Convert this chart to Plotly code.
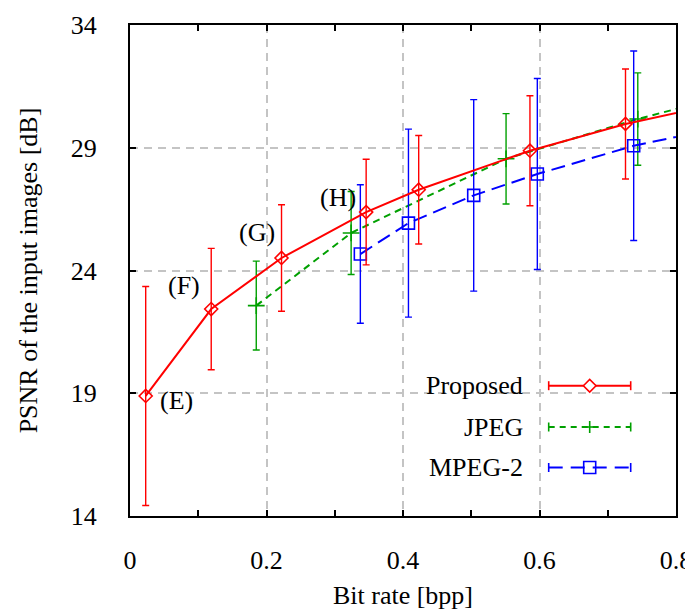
import plotly.graph_objects as go

# ---------------- data ----------------
prop_x = [0.023, 0.119, 0.222, 0.346, 0.423, 0.586, 0.726, 0.87]
prop_y = [18.89, 22.43, 24.51, 26.38, 27.29, 28.88, 29.97, 30.84]
prop_err = [4.46, 2.47, 2.17, 2.15, 2.21, 2.24, 2.24, 2.24]

jpeg_x = [0.185, 0.324, 0.551, 0.744, 0.87]
jpeg_y = [22.57, 25.53, 28.55, 30.17, 31.09]
jpeg_err = [1.81, 1.69, 1.84, 1.88, 1.88]

mpeg_x = [0.3375, 0.408, 0.5036, 0.5968, 0.738, 0.87]
mpeg_y = [24.67, 25.93, 27.06, 27.93, 29.08, 29.85]
mpeg_err = [2.82, 3.83, 3.90, 3.89, 3.86, 3.86]

point_labels = ["(E)", "(F)", "(G)", "(H)"]
label_shift = [(31, -5), (-27, 24), (-25, 25), (-28, 15)]

x_ticks = [0, 0.2, 0.4, 0.6, 0.8]
x_ticktext = ["0", "0.2", "0.4", "0.6", "0.8"]
y_ticks = [14, 19, 24, 29, 34]

series_names = ["Proposed", "JPEG", "MPEG-2"]
RED, GREEN, BLUE = "#ff0000", "#00a000", "#0000ff"

FONT = "Liberation Serif, Times New Roman, serif"
FS = 26

fig = go.Figure()

def add_series(x, y, err, color, dash, symbol, size, name):
    fig.add_trace(go.Scatter(
        x=x, y=y, mode="lines+markers", name=name, showlegend=False,
        line=dict(color=color, width=2, dash=dash),
        marker=dict(symbol=symbol, size=size, color=color,
                    line=dict(color=color, width=1.6)),
        error_y=dict(type="data", array=err, visible=True, color=color,
                     thickness=1.4, width=3.5),
    ))

add_series(jpeg_x, jpeg_y, jpeg_err, GREEN, "7px,5px", "cross-thin", 12, series_names[1])
add_series(mpeg_x, mpeg_y, mpeg_err, BLUE, "14px,7px", "square-open", 12, series_names[2])
add_series(prop_x, prop_y, prop_err, RED, "solid", "diamond-open", 10, series_names[0])

# point labels
for i, lab in enumerate(point_labels):
    fig.add_annotation(x=prop_x[i], y=prop_y[i], text=lab, showarrow=False,
                       xshift=label_shift[i][0], yshift=label_shift[i][1],
                       font=dict(family=FONT, size=FS, color="black"))

# ---------------- custom legend (gnuplot style: text then sample) ----------------
L, R, T, B = 122, 668, 17, 508
W, H = 693, 614
def px(xp):
    return (xp - L) / (R - L)
def py(yp):
    return (B - yp) / (B - T)

shapes = []
shapes.append(dict(type="rect", xref="paper", yref="paper", layer="between",
                   x0=px(397), x1=px(645), y0=py(492), y1=py(352),
                   fillcolor="white", line=dict(width=0)))
rows = [377.7, 419.0, 459.5]
colors = [RED, GREEN, BLUE]
dashes = ["solid", "6px,5px", "14px,8px"]
x0l, x1l, xm = 540.7, 622.7, 581.7
for yy, c, d, name in zip(rows, colors, dashes, series_names):
    shapes.append(dict(type="line", xref="paper", yref="paper", layer="above",
                       x0=px(x0l), x1=px(x1l), y0=py(yy), y1=py(yy),
                       line=dict(color=c, width=2, dash=d)))
    for xe in (x0l, x1l):
        shapes.append(dict(type="line", xref="paper", yref="paper", layer="above",
                           x0=px(xe), x1=px(xe), y0=py(yy - 4.5), y1=py(yy + 4.5),
                           line=dict(color=c, width=1.6)))
    fig.add_annotation(xref="paper", yref="paper", x=px(516.7), y=py(yy),
                       xanchor="right", yanchor="middle", text=name, showarrow=False,
                       font=dict(family=FONT, size=FS, color="black"))

# diamond
r = 6.3
yy = rows[0]
shapes.append(dict(type="path", xref="paper", yref="paper", layer="above",
                   path=f"M {px(xm-r)} {py(yy)} L {px(xm)} {py(yy-r)} L {px(xm+r)} {py(yy)} L {px(xm)} {py(yy+r)} Z",
                   fillcolor="white", line=dict(color=RED, width=1.6)))
# plus
yy = rows[1]
shapes.append(dict(type="line", xref="paper", yref="paper", layer="above",
                   x0=px(xm - 6), x1=px(xm + 6), y0=py(yy), y1=py(yy),
                   line=dict(color=GREEN, width=1.6)))
shapes.append(dict(type="line", xref="paper", yref="paper", layer="above",
                   x0=px(xm), x1=px(xm), y0=py(yy - 6), y1=py(yy + 6),
                   line=dict(color=GREEN, width=1.6)))
# square
yy = rows[2]
shapes.append(dict(type="rect", xref="paper", yref="paper", layer="above",
                   x0=px(xm - 6), x1=px(xm + 6), y0=py(yy + 6), y1=py(yy - 6),
                   line=dict(color=BLUE, width=1.6)))

axis_common = dict(
    showline=True, linecolor="black", linewidth=2, mirror="ticks",
    ticks="inside", ticklen=6, tickcolor="black", tickwidth=1.5,
    showgrid=True, gridcolor="#c4c4c4", gridwidth=1.5, griddash="8px,6px",
    zeroline=False, automargin=False,
    tickfont=dict(family=FONT, size=FS, color="black"),
)

fig.update_layout(
    width=W, height=H,
    margin=dict(l=L, r=W - R, t=T, b=H - B),
    paper_bgcolor="white", plot_bgcolor="white",
    font=dict(family=FONT, size=FS, color="black"),
    shapes=shapes,
    xaxis=dict(range=[0, 0.8], tickvals=x_ticks, ticktext=x_ticktext,
               minor=dict(dtick=0.1, tick0=0, ticks="inside", ticklen=6,
                          tickcolor="black", showgrid=False),
               ticklabelstandoff=20,
               title=dict(text="Bit rate [bpp]", standoff=12,
                          font=dict(family=FONT, size=FS, color="black")),
               **axis_common),
    yaxis=dict(range=[14, 34], tickvals=y_ticks, ticklabelstandoff=26,
               title=dict(text="PSNR of the input images [dB]", standoff=26,
                          font=dict(family=FONT, size=FS, color="black")),
               **axis_common),
)

fig.write_html("out.html")
